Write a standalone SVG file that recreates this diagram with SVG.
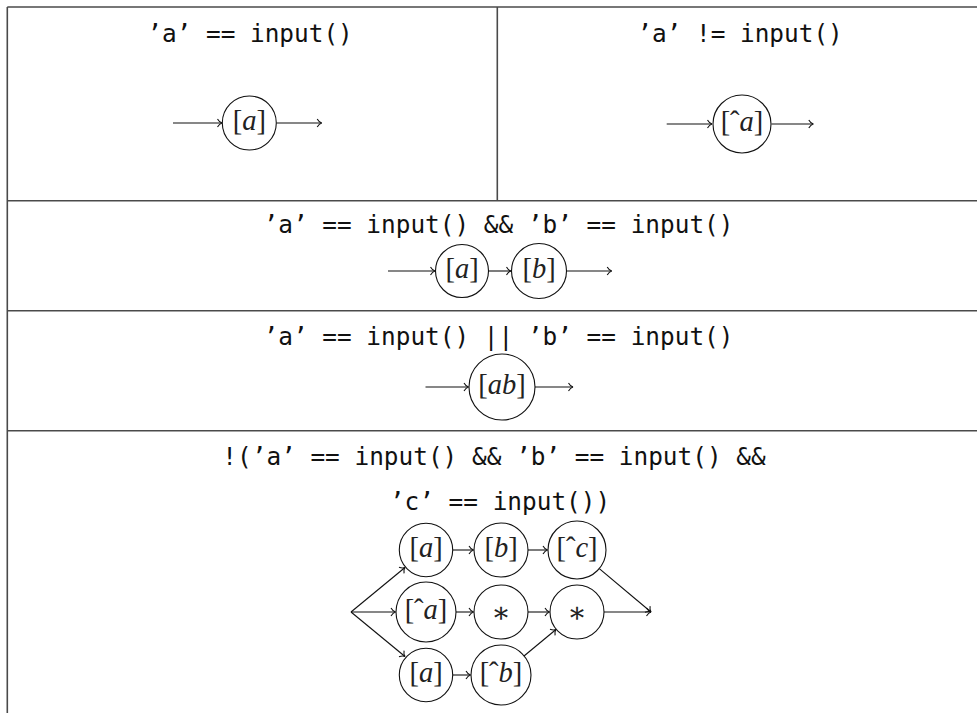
<svg xmlns="http://www.w3.org/2000/svg" width="977" height="713" viewBox="0 0 977 713">
<style>
.grid{stroke:#4a4a4a;stroke-width:1.6;fill:none}
.code{font-family:"DejaVu Sans Mono","Liberation Mono",monospace;font-size:24.4px;fill:#111;text-anchor:middle}
.node circle{fill:#fff;stroke:#111;stroke-width:1.1}
.lbl{font-family:"Liberation Serif","DejaVu Serif",serif;font-size:28.5px;fill:#222;text-anchor:middle}
.it{font-style:italic}
.edge{stroke:#111;stroke-width:1.1;fill:none;marker-end:url(#arr)}
</style>
<defs>
<marker id="arr" markerUnits="userSpaceOnUse" markerWidth="12" markerHeight="12" refX="0" refY="0" viewBox="-6 -6 12 12" orient="auto" overflow="visible">
<path d="M-4.5,-4 C-3,-1.4 -1.2,-0.3 0,0 C-1.2,0.3 -3,1.4 -4.5,4" fill="none" stroke="#111" stroke-width="1.1"/>
</marker>
</defs>
<rect width="977" height="713" fill="#fff"/>
<g id="table">
<line class="grid" x1="7.3" y1="7" x2="977" y2="7"/>
<line class="grid" x1="7.3" y1="7" x2="7.3" y2="713"/>
<line class="grid" x1="497.3" y1="7" x2="497.3" y2="200.7"/>
<line class="grid" x1="7.3" y1="200.7" x2="977" y2="200.7"/>
<line class="grid" x1="7.3" y1="310.7" x2="977" y2="310.7"/>
<line class="grid" x1="7.3" y1="430.7" x2="977" y2="430.7"/>
</g>
<g id="headers">
<text class="code" x="250" y="41.5">’a’ == input()</text>
<text class="code" x="740" y="41.5">’a’ != input()</text>
<text class="code" x="498.5" y="233">’a’ == input() &amp;&amp; ’b’ == input()</text>
<text class="code" x="498.5" y="345">’a’ == input() || ’b’ == input()</text>
<text class="code" x="494" y="465">!(’a’ == input() &amp;&amp; ’b’ == input() &amp;&amp;</text>
<text class="code" x="500" y="510">’c’ == input())</text>
</g>
<g id="connectors">
<line class="edge" x1="173" y1="123" x2="222" y2="123"/>
<line class="edge" x1="276.5" y1="123" x2="321.7" y2="123"/>
<line class="edge" x1="666.7" y1="124" x2="712" y2="124"/>
<line class="edge" x1="771.5" y1="124" x2="813.3" y2="124"/>
<line class="edge" x1="388" y1="271" x2="435" y2="271"/>
<line class="edge" x1="488" y1="271" x2="511" y2="271"/>
<line class="edge" x1="566.5" y1="271" x2="611.7" y2="271"/>
<line class="edge" x1="425.5" y1="387" x2="468.5" y2="387"/>
<line class="edge" x1="535" y1="387" x2="573" y2="387"/>
<line class="edge" x1="351" y1="612" x2="405" y2="567.5"/>
<line class="edge" x1="351" y1="612" x2="395.5" y2="612"/>
<line class="edge" x1="351" y1="612" x2="405" y2="656.5"/>
<line class="edge" x1="453" y1="550" x2="473.5" y2="550"/>
<line class="edge" x1="528" y1="550" x2="547.5" y2="550"/>
<line class="edge" x1="456" y1="612" x2="473.5" y2="612"/>
<line class="edge" x1="528" y1="612" x2="549.5" y2="612"/>
<line class="edge" x1="453" y1="675" x2="470.5" y2="675"/>
<line class="edge" x1="524" y1="656" x2="556" y2="629.5"/>
<line class="edge" x1="599.3" y1="568.6" x2="651" y2="612"/>
<line class="edge" x1="604" y1="612" x2="651" y2="612"/>
</g>
<g id="n1" class="node"><circle cx="249.3" cy="123" r="27"/><text class="lbl" x="249.3" y="130">[<tspan class="it">a</tspan>]</text></g>
<g id="n2" class="node"><circle cx="742" cy="124" r="29"/><text class="lbl" x="742" y="131">[ˆ<tspan class="it">a</tspan>]</text></g>
<g id="n3" class="node"><circle cx="462" cy="271" r="26.5"/><text class="lbl" x="462" y="278">[<tspan class="it">a</tspan>]</text></g>
<g id="n4" class="node"><circle cx="539" cy="271" r="27.5"/><text class="lbl" x="539" y="278">[<tspan class="it">b</tspan>]</text></g>
<g id="n5" class="node"><circle cx="502" cy="387" r="33"/><text class="lbl" x="502" y="394">[<tspan class="it">ab</tspan>]</text></g>
<g id="n6" class="node"><circle cx="426" cy="550" r="26.7"/><text class="lbl" x="426" y="557">[<tspan class="it">a</tspan>]</text></g>
<g id="n7" class="node"><circle cx="501" cy="550" r="27"/><text class="lbl" x="501" y="557">[<tspan class="it">b</tspan>]</text></g>
<g id="n8" class="node"><circle cx="577" cy="550" r="29"/><text class="lbl" x="577" y="557">[ˆ<tspan class="it">c</tspan>]</text></g>
<g id="n9" class="node"><circle cx="426" cy="612" r="30"/><text class="lbl" x="426" y="619">[ˆ<tspan class="it">a</tspan>]</text></g>
<g id="n10" class="node"><circle cx="501" cy="612" r="27"/><text class="lbl" x="501" y="621.5">∗</text></g>
<g id="n11" class="node"><circle cx="577" cy="612" r="27"/><text class="lbl" x="577" y="621.5">∗</text></g>
<g id="n12" class="node"><circle cx="426" cy="675" r="26.7"/><text class="lbl" x="426" y="682">[<tspan class="it">a</tspan>]</text></g>
<g id="n13" class="node"><circle cx="501" cy="675" r="30"/><text class="lbl" x="501" y="682">[ˆ<tspan class="it">b</tspan>]</text></g>
</svg>
